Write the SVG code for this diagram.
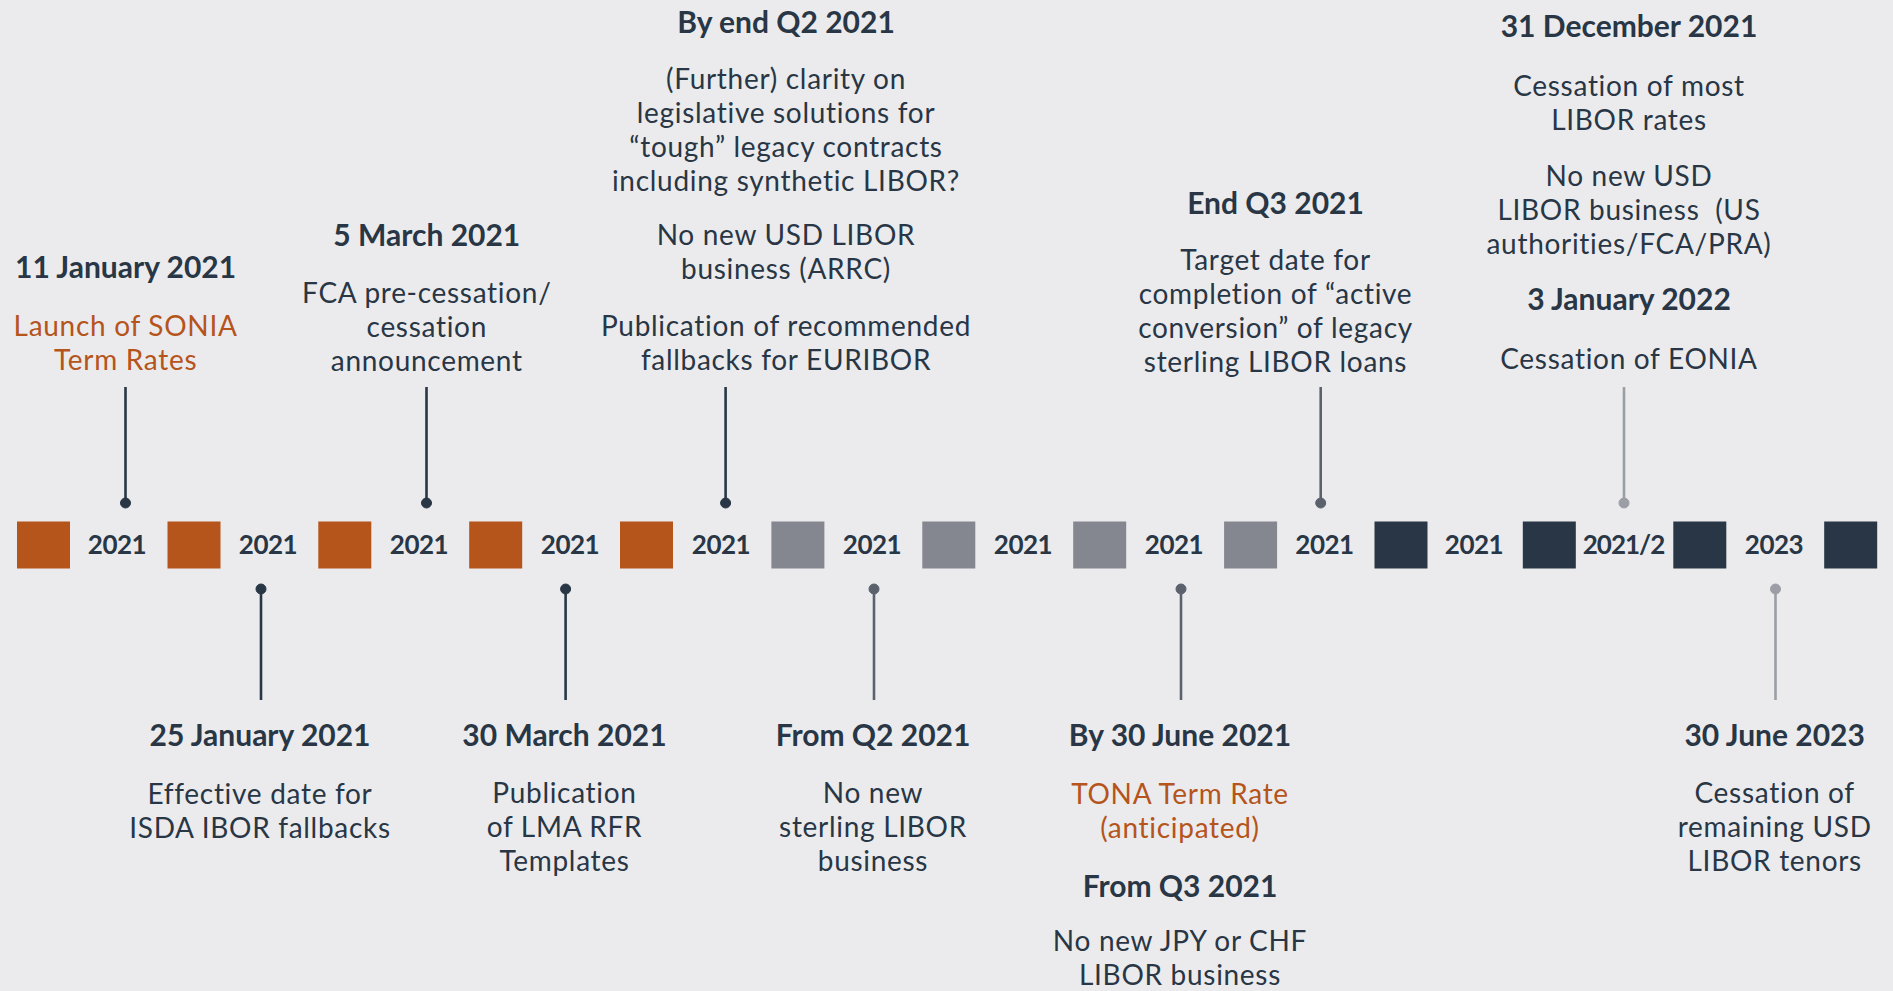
<svg xmlns="http://www.w3.org/2000/svg" width="1893" height="991" viewBox="0 0 1893 991">
  <style>
    text { font-family: Lato, "Open Sans", "Liberation Sans", sans-serif; text-anchor: middle; fill: #283645; }
    .h { font-size: 30px; font-weight: 700; }
    .b { font-size: 28px; font-weight: 400; letter-spacing: 0.7px; }
    .hl { fill: #B5541B; }
    .yr { font-size: 26px; font-weight: 700; letter-spacing: -0.5px; }
    .sq-o { fill: #B5551B; }
    .sq-g { fill: #84878F; }
    .sq-d { fill: #283645; }
    .stem { stroke-width: 2.6; fill: none; }
    .c-dark { stroke: #283645; fill: #283645; }
    .c-mid { stroke: #5B616D; fill: #5B616D; }
    .c-light { stroke: #9C9EA5; fill: #9C9EA5; }
  </style>
  <rect width="1893" height="991" fill="#EBEBED"/>

  <!-- timeline bar: coloured blocks with the year between each pair -->
  <g id="timeline">
    <rect class="sq-o" x="17" y="521.5" width="53" height="47"/>
    <rect class="sq-o" x="167.5" y="521.5" width="53" height="47"/>
    <rect class="sq-o" x="318.3" y="521.5" width="53" height="47"/>
    <rect class="sq-o" x="469.2" y="521.5" width="53" height="47"/>
    <rect class="sq-o" x="620" y="521.5" width="53" height="47"/>
    <rect class="sq-g" x="771.4" y="521.5" width="53" height="47"/>
    <rect class="sq-g" x="922.3" y="521.5" width="53" height="47"/>
    <rect class="sq-g" x="1073.2" y="521.5" width="53" height="47"/>
    <rect class="sq-g" x="1224.1" y="521.5" width="53" height="47"/>
    <rect class="sq-d" x="1374.5" y="521.5" width="53" height="47"/>
    <rect class="sq-d" x="1522.8" y="521.5" width="53" height="47"/>
    <rect class="sq-d" x="1673.3" y="521.5" width="53" height="47"/>
    <rect class="sq-d" x="1824.2" y="521.5" width="53" height="47"/>
    <text class="yr" x="117" y="554">2021</text>
    <text class="yr" x="268" y="554">2021</text>
    <text class="yr" x="419" y="554">2021</text>
    <text class="yr" x="570" y="554">2021</text>
    <text class="yr" x="721" y="554">2021</text>
    <text class="yr" x="872" y="554">2021</text>
    <text class="yr" x="1023" y="554">2021</text>
    <text class="yr" x="1174" y="554">2021</text>
    <text class="yr" x="1324.5" y="554">2021</text>
    <text class="yr" x="1474" y="554">2021</text>
    <text class="yr" x="1623.5" y="554" style="letter-spacing:-1px">2021/2</text>
    <text class="yr" x="1774" y="554">2023</text>
  </g>

  <!-- stems joining each milestone to the bar -->
  <g id="connectors">
    <line class="stem c-dark" x1="125.5" y1="387" x2="125.5" y2="503"/>
    <circle class="c-dark" cx="125.5" cy="503" r="5"/>
    <line class="stem c-dark" x1="426.5" y1="387" x2="426.5" y2="503"/>
    <circle class="c-dark" cx="426.5" cy="503" r="5"/>
    <line class="stem c-dark" x1="725.6" y1="387" x2="725.6" y2="503"/>
    <circle class="c-dark" cx="725.6" cy="503" r="5"/>
    <line class="stem c-mid" x1="1320.7" y1="387" x2="1320.7" y2="503"/>
    <circle class="c-mid" cx="1320.7" cy="503" r="5"/>
    <line class="stem c-light" x1="1624" y1="387" x2="1624" y2="503"/>
    <circle class="c-light" cx="1624" cy="503" r="5"/>

    <line class="stem c-dark" x1="261" y1="589" x2="261" y2="700"/>
    <circle class="c-dark" cx="261" cy="589" r="5"/>
    <line class="stem c-dark" x1="565.6" y1="589" x2="565.6" y2="700"/>
    <circle class="c-dark" cx="565.6" cy="589" r="5"/>
    <line class="stem c-mid" x1="874" y1="589" x2="874" y2="700"/>
    <circle class="c-mid" cx="874" cy="589" r="5"/>
    <line class="stem c-mid" x1="1181" y1="589" x2="1181" y2="700"/>
    <circle class="c-mid" cx="1181" cy="589" r="5"/>
    <line class="stem c-light" x1="1775.5" y1="589" x2="1775.5" y2="700"/>
    <circle class="c-light" cx="1775.5" cy="589" r="5"/>
  </g>

  <!-- milestones above the bar -->
  <g id="jan11">
    <text class="h" x="125.6" y="278">11 January 2021</text>
    <text class="b hl"><tspan x="125.6" y="336">Launch of SONIA</tspan><tspan x="125.6" y="370">Term Rates</tspan></text>
  </g>
  <g id="mar5">
    <text class="h" x="426.8" y="245.5">5 March 2021</text>
    <text class="b"><tspan x="426.8" y="303">FCA pre-cessation/</tspan><tspan x="426.8" y="337">cessation</tspan><tspan x="426.8" y="371">announcement</tspan></text>
  </g>
  <g id="endq2">
    <text class="h" x="786" y="33">By end Q2 2021</text>
    <text class="b"><tspan x="786" y="89">(Further) clarity on</tspan><tspan x="786" y="123">legislative solutions for</tspan><tspan x="786" y="157">“tough” legacy contracts</tspan><tspan x="786" y="191">including synthetic LIBOR?</tspan></text>
    <text class="b"><tspan x="786" y="245">No new USD LIBOR</tspan><tspan x="786" y="279">business (ARRC)</tspan></text>
    <text class="b"><tspan x="786" y="336">Publication of recommended</tspan><tspan x="786" y="370">fallbacks for EURIBOR</tspan></text>
  </g>
  <g id="endq3">
    <text class="h" x="1275.5" y="214">End Q3 2021</text>
    <text class="b"><tspan x="1275.5" y="270">Target date for</tspan><tspan x="1275.5" y="304">completion of “active</tspan><tspan x="1275.5" y="338">conversion” of legacy</tspan><tspan x="1275.5" y="372">sterling LIBOR loans</tspan></text>
  </g>
  <g id="dec31">
    <text class="h" x="1629" y="37">31 December 2021</text>
    <text class="b"><tspan x="1629" y="95.5">Cessation of most</tspan><tspan x="1629" y="129.5">LIBOR rates</tspan></text>
    <text class="b"><tspan x="1629" y="185.5">No new USD</tspan><tspan x="1629" y="219.5">LIBOR business &#160;(US</tspan><tspan x="1629" y="253.5">authorities/FCA/PRA)</tspan></text>
    <text class="h" x="1629" y="309.5">3 January 2022</text>
    <text class="b" x="1629" y="369">Cessation of EONIA</text>
  </g>

  <!-- milestones below the bar -->
  <g id="jan25">
    <text class="h" x="260" y="746">25 January 2021</text>
    <text class="b"><tspan x="260" y="804">Effective date for</tspan><tspan x="260" y="838">ISDA IBOR fallbacks</tspan></text>
  </g>
  <g id="mar30">
    <text class="h" x="564.5" y="746">30 March 2021</text>
    <text class="b"><tspan x="564.5" y="803">Publication</tspan><tspan x="564.5" y="837">of LMA RFR</tspan><tspan x="564.5" y="871">Templates</tspan></text>
  </g>
  <g id="fromq2">
    <text class="h" x="873" y="746">From Q2 2021</text>
    <text class="b"><tspan x="873" y="803">No new</tspan><tspan x="873" y="837">sterling LIBOR</tspan><tspan x="873" y="871">business</tspan></text>
  </g>
  <g id="jun30">
    <text class="h" x="1180" y="746">By 30 June 2021</text>
    <text class="b hl"><tspan x="1180" y="804">TONA Term Rate</tspan><tspan x="1180" y="838">(anticipated)</tspan></text>
    <text class="h" x="1180" y="897">From Q3 2021</text>
    <text class="b"><tspan x="1180" y="951">No new JPY or CHF</tspan><tspan x="1180" y="985">LIBOR business</tspan></text>
  </g>
  <g id="jun2023">
    <text class="h" x="1774.7" y="746">30 June 2023</text>
    <text class="b"><tspan x="1774.7" y="803">Cessation of</tspan><tspan x="1774.7" y="837">remaining USD</tspan><tspan x="1774.7" y="871">LIBOR tenors</tspan></text>
  </g>
</svg>
